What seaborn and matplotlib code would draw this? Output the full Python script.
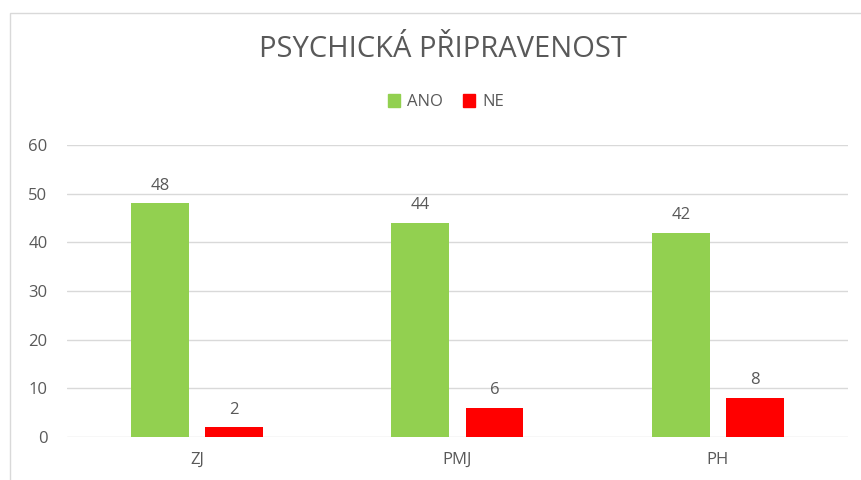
import matplotlib.pyplot as plt
import seaborn as sns
import pandas as pd
from matplotlib.patches import Rectangle

# ── Data ──────────────────────────────────────────────────────────────────
categories = ["ZJ", "PMJ", "PH"]
ano_values = [48, 44, 42]
ne_values = [2, 6, 8]
series_names = ["ANO", "NE"]
colors = ["#92D050", "#FF0000"]

df = pd.DataFrame({
    "Kategorie": categories * 2,
    "Odpověď": [series_names[0]] * 3 + [series_names[1]] * 3,
    "Počet": ano_values + ne_values,
})

sns.set_theme(style="white")
plt.rcParams["font.family"] = ["Open Sans", "DejaVu Sans"]
TEXT = "#595959"

fig = plt.figure(figsize=(8.62, 4.8), dpi=100)
ax = fig.add_axes([0.0777, 0.0896, 0.906, 0.6083])

sns.barplot(
    data=df, x="Kategorie", y="Počet", hue="Odpověď",
    palette=colors, saturation=1, width=0.57, gap=0.22,
    linewidth=0, ax=ax, legend=False,
)

for cont in ax.containers:
    ax.bar_label(cont, padding=7, fontsize=12, color=TEXT)

ax.set_ylim(0, 60)
ax.set_yticks(range(0, 61, 10))
ax.grid(axis="y", color="#D9D9D9", linewidth=1)
ax.set_axisbelow(True)
for s in ax.spines.values():
    s.set_visible(False)
ax.set_xlabel("")
ax.set_ylabel("")
ax.tick_params(axis="both", length=0, labelsize=12, labelcolor=TEXT)
ax.tick_params(axis="y", pad=14)
ax.tick_params(axis="x", pad=11)

fig.text(0.514, 0.897, "PSYCHICKÁ PŘIPRAVENOST", ha="center", va="center",
         fontsize=21, color=TEXT)

handles = [Rectangle((0, 0), 1, 1, color=c) for c in colors]
fig.legend(handles, series_names, loc="center", bbox_to_anchor=(0.517, 0.787),
           ncol=2, frameon=False, fontsize=12, labelcolor=TEXT,
           handlelength=0.75, handleheight=0.75, handletextpad=0.4, columnspacing=1.2)

# light chart-area border (left and top edges visible)
fig.add_artist(Rectangle((10 / 862, -0.1), 1.1, 1 - 13 / 480 + 0.1,
                         transform=fig.transFigure, fill=False,
                         edgecolor="#D9D9D9", linewidth=1))

fig.savefig("out.png", dpi=100)
